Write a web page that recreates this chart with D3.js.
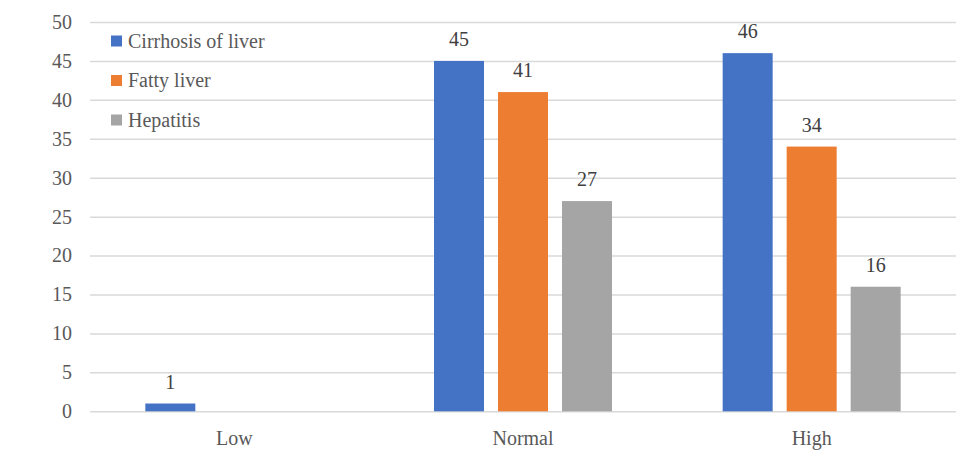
<!DOCTYPE html>
<html><head><meta charset="utf-8">
<script src="https://cdn.jsdelivr.net/npm/d3@7"></script>
<style>
svg, svg text, svg g { font-family: "Liberation Serif", Tinos, serif !important; }
</style>
</head><body style="margin:0">
<svg id="c" width="975" height="458" font-family="Liberation Serif"></svg>
<script>
const categories = ["Low", "Normal", "High"];
const seriesNames = ["Cirrhosis of liver", "Fatty liver", "Hepatitis"];
const cirrhosis = [1, 45, 46];
const fatty = [0, 41, 34];
const hepatitis = [0, 27, 16];
const yTicks = [0, 5, 10, 15, 20, 25, 30, 35, 40, 45, 50];
const colors = ["#4472C4", "#ED7D31", "#A5A5A5"];

(function () {
const seriesValues = [cirrhosis, fatty, hepatitis];
const svg = d3.select("#c");
const FF = "Liberation Serif";
const fsize = 20;
const pLeft = 90, pRight = 956, pTop = 22, pBottom = 411.3;

const y = d3.scaleLinear().domain([0, 50]).range([pBottom, pTop]);
const x0 = d3.scaleBand().domain(categories).range([pLeft, pRight]).paddingInner(0).paddingOuter(0);
const groupW = 178;
const x1 = d3.scaleBand().domain(seriesNames).range([0, groupW]).paddingInner(14/64).paddingOuter(0);
const groupOff = (x0.bandwidth() - groupW) / 2;

// gridlines + y tick labels
const yAxis = d3.axisLeft(y).tickValues(yTicks).tickSize(-(pRight - pLeft)).tickPadding(12);
const ga = svg.append("g").attr("transform", `translate(${pLeft},0)`).call(yAxis);
ga.attr("font-family", FF).attr("font-size", fsize);
ga.select(".domain").remove();
ga.selectAll(".tick line").attr("stroke", "#D9D9D9").attr("stroke-width", 1.5);
ga.selectAll(".tick text").attr("fill", "#595959").attr("font-family", FF).attr("font-size", fsize).attr("x", -18);

// x axis labels
const xAxis = d3.axisBottom(x0).tickSize(0).tickPadding(20);
const gx = svg.append("g").attr("transform", `translate(0,${pBottom})`).call(xAxis);
gx.attr("font-family", FF).attr("font-size", fsize);
gx.select(".domain").remove();
gx.selectAll(".tick text").attr("fill", "#595959").attr("font-family", FF).attr("font-size", fsize);

// bars
const data = [];
categories.forEach((c, i) => seriesNames.forEach((s, j) => data.push({c, s, j, v: seriesValues[j][i]})));
const bars = data.filter(d => d.v > 0);
svg.append("g").selectAll("rect").data(bars).join("rect")
  .attr("x", d => x0(d.c) + groupOff + x1(d.s))
  .attr("width", x1.bandwidth())
  .attr("y", d => y(d.v))
  .attr("height", d => y(0) - y(d.v))
  .attr("fill", d => colors[d.j]);

svg.append("g").attr("font-family", FF).selectAll("text").data(bars).join("text")
  .attr("x", d => x0(d.c) + groupOff + x1(d.s) + x1.bandwidth() / 2)
  .attr("y", d => y(d.v) - 15)
  .attr("text-anchor", "middle")
  .attr("fill", "#404040")
  .attr("font-family", FF)
  .attr("font-size", fsize)
  .text(d => d.v);

// legend
const lg = svg.append("g").attr("font-family", FF);
seriesNames.forEach((s, j) => {
  const cy = 41 + j * 39.5;
  lg.append("rect").attr("x", 111).attr("y", cy - 5.5).attr("width", 11).attr("height", 11).attr("fill", colors[j]);
  lg.append("text").attr("x", 128).attr("y", cy + 6.5).attr("fill", "#595959")
    .attr("font-family", FF).attr("font-size", fsize).text(s);
});
})();
</script>
</body></html>
